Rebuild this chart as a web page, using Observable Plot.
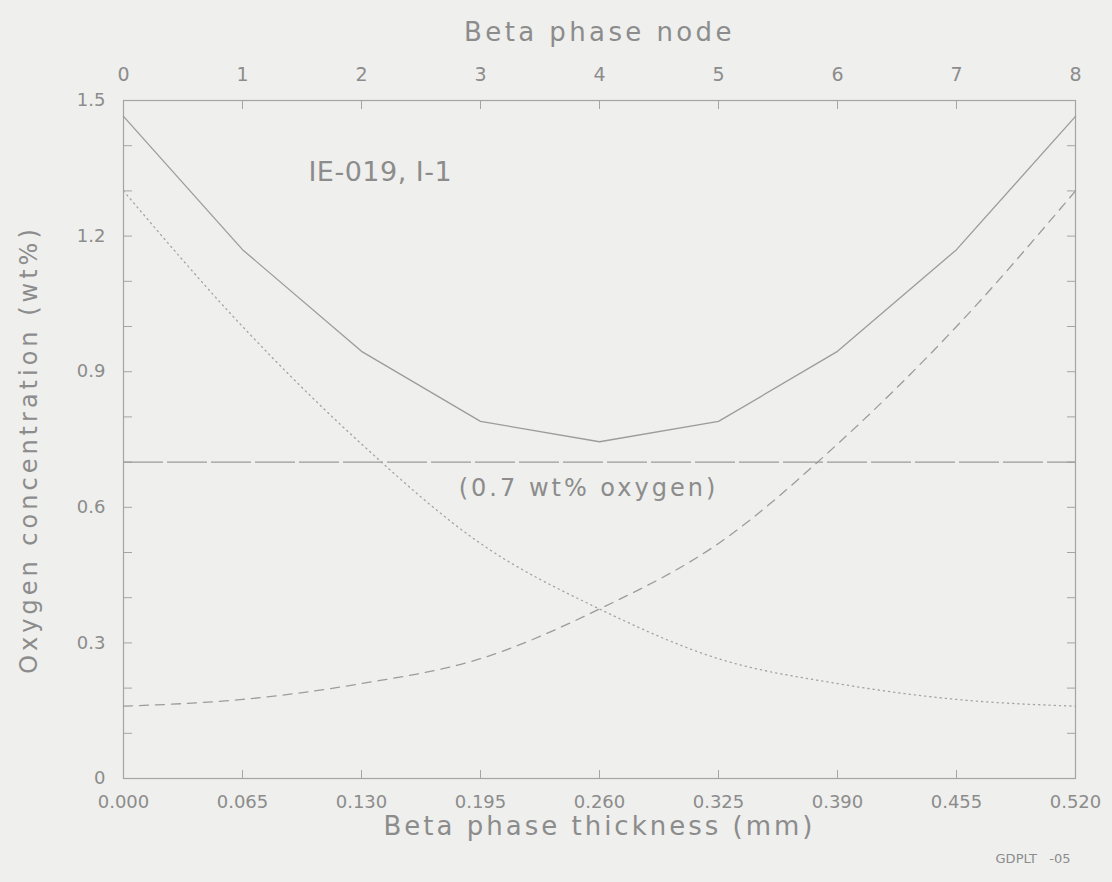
<!DOCTYPE html>
<html><head><meta charset="utf-8">
<script src="https://cdn.jsdelivr.net/npm/d3@7"></script>
<script src="https://cdn.jsdelivr.net/npm/@observablehq/plot@0.6"></script>
<style>
html,body{margin:0;padding:0;background:#efefed;}
#chart svg{display:block;}
</style></head><body><div id="chart"></div>
<script>
// ---- data ----
const nodes = [0, 1, 2, 3, 4, 5, 6, 7, 8];
const thickness = [0, 0.065, 0.13, 0.195, 0.26, 0.325, 0.39, 0.455, 0.52];
const thicknessLabels = ["0.000", "0.065", "0.130", "0.195", "0.260", "0.325", "0.390", "0.455", "0.520"];
const totalOxygen = [1.465, 1.17, 0.945, 0.79, 0.745, 0.79, 0.945, 1.17, 1.465];
const leftOxygen = [1.30, 1.00, 0.74, 0.52, 0.375, 0.265, 0.21, 0.175, 0.16];
const rightOxygen = [0.16, 0.175, 0.21, 0.265, 0.375, 0.52, 0.74, 1.00, 1.30];
const yTicks = [0, 0.3, 0.6, 0.9, 1.2, 1.5];
const yTickLabels = ["0", "0.3", "0.6", "0.9", "1.2", "1.5"];
const yMinorTicks = [0, 0.1, 0.2, 0.3, 0.4, 0.5, 0.6, 0.7, 0.8, 0.9, 1.0, 1.1, 1.2, 1.3, 1.4, 1.5];
const threshold = 0.7;
const caseLabel = {text: "IE-019, I-1", x: 0.101, y: 1.323};
const thresholdLabel = {text: "(0.7 wt% oxygen)", x: 0.254, y: 0.7};

const ink = "#8c8c8c";
const lineInk = "#9c9c9c";
const font = "DejaVu Sans";

const chart = Plot.plot({
  width: 1112,
  height: 882,
  marginLeft: 123,
  marginRight: 37,
  marginTop: 100,
  marginBottom: 104,
  x: {domain: [0, 0.52]},
  y: {domain: [0, 1.5]},
  style: {background: "transparent", color: ink, fontFamily: font, fontSize: "18px"},
  marks: [
    Plot.frame({stroke: "#a5a5a5", strokeWidth: 1.2}),
    // inward tick marks
    Plot.axisY(yMinorTicks, {anchor: "left", tickSize: -9, tickFormat: () => "", label: null, stroke: "#a5a5a5"}),
    Plot.axisY(yMinorTicks, {anchor: "right", tickSize: -9, tickFormat: () => "", label: null, stroke: "#a5a5a5"}),
    Plot.axisX(thickness, {anchor: "bottom", tickSize: -8, tickFormat: () => "", label: null, stroke: "#a5a5a5"}),
    Plot.axisX(thickness, {anchor: "top", tickSize: -8, tickFormat: () => "", label: null, stroke: "#a5a5a5"}),
    // tick labels
    Plot.axisY(yTicks, {anchor: "left", tickSize: 0, tickPadding: 18, label: null,
      tickFormat: d => yTickLabels[yTicks.indexOf(d)], fontSize: 18}),
    Plot.axisX(thickness, {anchor: "bottom", tickSize: 0, tickPadding: 17, label: null,
      tickFormat: d => thicknessLabels[thickness.indexOf(d)], fontSize: 18}),
    Plot.axisX(thickness, {anchor: "top", tickSize: 0, tickPadding: 20, label: null,
      tickFormat: d => String(nodes[thickness.indexOf(d)]), fontSize: 19}),
    // axis titles
    Plot.text(["Beta phase node"], {frameAnchor: "top", dy: -60, lineAnchor: "bottom", fontSize: 26, fill: ink}),
    Plot.text(["Beta phase thickness (mm)"], {frameAnchor: "bottom", dy: 56, lineAnchor: "bottom", fontSize: 26, fill: ink}),
    Plot.text(["Oxygen concentration (wt%)"], {frameAnchor: "left", textAnchor: "middle", dx: -94, dy: 10, rotate: -90, fontSize: 24, fill: ink}),
    Plot.text(["GDPLT   -05"], {frameAnchor: "bottom-right", dx: -5, dy: 84, textAnchor: "end", lineAnchor: "bottom", fontSize: 13, fill: ink}),
    // threshold line
    Plot.ruleY([threshold], {stroke: lineInk, strokeWidth: 1.1, strokeDasharray: "40,4"}),
    // curves
    Plot.line(nodes, {x: thickness, y: leftOxygen, stroke: "#a3a3a3", strokeWidth: 1.3, strokeDasharray: "1.2,4", curve: "monotone-x"}),
    Plot.line(nodes, {x: thickness, y: rightOxygen, stroke: lineInk, strokeWidth: 1.3, strokeDasharray: "9,7", curve: "monotone-x"}),
    Plot.line(nodes, {x: thickness, y: totalOxygen, stroke: lineInk, strokeWidth: 1.3}),
    // annotations
    Plot.text([caseLabel], {x: "x", y: "y", text: "text", textAnchor: "start", lineAnchor: "bottom", fontSize: 27, fill: ink}),
    Plot.text([thresholdLabel], {x: "x", y: "y", text: "text", dy: 34, lineAnchor: "bottom", fontSize: 24, fill: ink})
  ]
});

document.getElementById("chart").appendChild(chart);
const spacing = {
  "Beta phase node": "3.4px",
  "Beta phase thickness (mm)": "3px",
  "Oxygen concentration (wt%)": "4px",
  "(0.7 wt% oxygen)": "3px",
  "IE-019, I-1": "0.5px"
};
d3.select(chart).selectAll("text").each(function() {
  const t = this.textContent;
  if (spacing[t]) this.style.letterSpacing = spacing[t];
});
</script></body></html>
